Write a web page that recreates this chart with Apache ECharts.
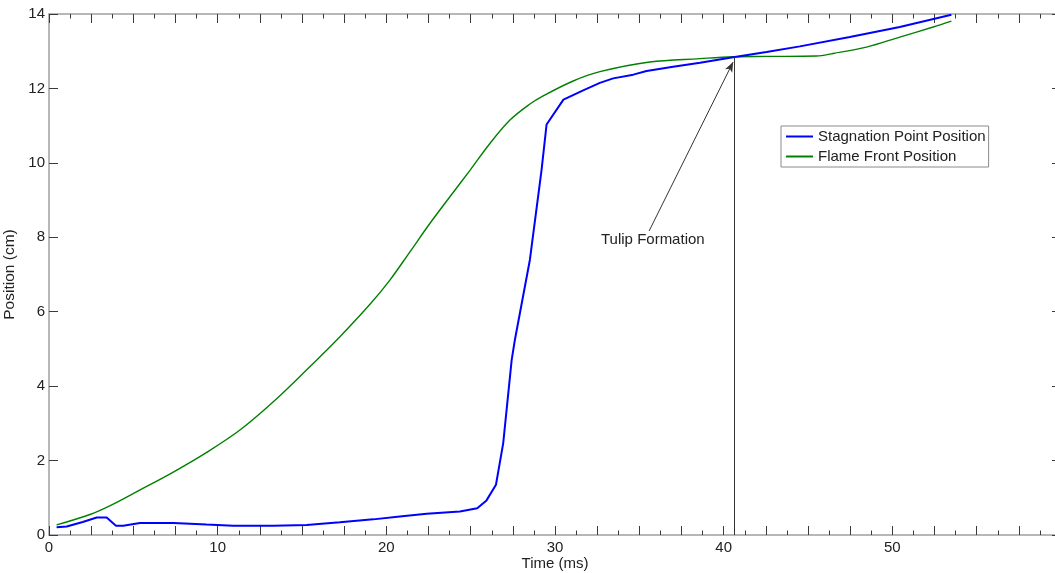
<!DOCTYPE html>
<html>
<head>
<meta charset="utf-8">
<title>Stagnation point and flame front position</title>
<script src="https://cdn.jsdelivr.net/npm/echarts@6/dist/echarts.min.js"></script>
<style>
  html, body { margin: 0; padding: 0; background: #ffffff; }
  #chart { width: 1055px; height: 573px; }
</style>
</head>
<body>
<div id="chart"></div>
<script>
// Stagnation point position (time in ms, position in cm)
const stagTime = [0.45, 1.05, 2.0, 2.83, 3.42, 3.97, 4.4, 5.39, 7.37, 9.35, 10.93, 13.3, 15.28, 17.25, 19.22, 20.8, 22.39, 24.36, 25.39, 25.94, 26.5, 26.93, 27.43, 27.62, 28.51, 29.2, 29.5, 30.5, 31.67, 32.66, 33.45, 34.64, 35.43, 37.0, 38.6, 40.56, 42.54, 44.52, 47.48, 50.44, 53.5];
const stagPos  = [0.21, 0.23, 0.35, 0.47, 0.47, 0.25, 0.25, 0.32, 0.32, 0.28, 0.25, 0.25, 0.27, 0.34, 0.42, 0.5, 0.57, 0.63, 0.72, 0.93, 1.35, 2.47, 4.7, 5.24, 7.39, 9.8, 11.03, 11.7, 11.95, 12.15, 12.27, 12.37, 12.47, 12.58, 12.69, 12.84, 12.98, 13.13, 13.38, 13.65, 13.98];

// Flame front position
const flameTime = [0.45, 2.43, 3.6, 5.4, 7.37, 9.35, 11.32, 13.3, 15.28, 17.25, 19.03, 20.21, 21.4, 22.58, 23.77, 24.96, 26.14, 27.33, 28.51, 29.3, 31.08, 32.66, 35.62, 38.59, 40.56, 42.54, 45.5, 46.49, 48.47, 50.44, 52.42, 53.5];
const flamePos  = [0.27, 0.55, 0.78, 1.21, 1.69, 2.22, 2.82, 3.58, 4.44, 5.33, 6.2, 6.85, 7.61, 8.37, 9.09, 9.8, 10.52, 11.15, 11.58, 11.8, 12.2, 12.45, 12.71, 12.8, 12.85, 12.86, 12.87, 12.94, 13.11, 13.38, 13.65, 13.81];

// Labelled ticks on the time axis
const timeTickLabels = [0, 10, 20, 30, 40, 50];

// Tulip formation marker: vertical line, arrow and caption
const tulipTime = 40.6;
const tulipPos = 12.85;
const arrowFrom = [35.58, 8.17];
const arrowTo = [40.56, 12.71];
const captionAt = [35.8, 7.92];
const captionText = 'Tulip Formation';

const pairs = (xs, ys) => xs.map((x, i) => [x, ys[i]]);

const FONT = '"Liberation Sans", Arial, Helvetica, sans-serif';
const AXIS_LINE = { show: true, onZero: false, lineStyle: { color: '#a0a0a0', width: 1.5 } };
const TICK_STYLE = { color: '#3a3a3a', width: 1 };

const chart = echarts.init(document.getElementById('chart'), null, { renderer: 'canvas' });

const xCommon = {
  type: 'value', min: 0, max: 60, interval: 2.5,
  axisLine: AXIS_LINE,
  axisTick: { show: true, inside: true, length: 9, lineStyle: TICK_STYLE },
  minorTick: { show: true, splitNumber: 2, length: 4.5, lineStyle: TICK_STYLE },
  splitLine: { show: false },
  minorSplitLine: { show: false }
};
const yCommon = {
  type: 'value', min: 0, max: 14, interval: 2,
  axisLine: AXIS_LINE,
  axisTick: { show: true, inside: true, length: 9, lineStyle: TICK_STYLE },
  splitLine: { show: false }
};

chart.setOption({
  animation: false,
  backgroundColor: '#ffffff',
  textStyle: { fontFamily: FONT },
  grid: { left: 49, right: -6, top: 14, bottom: 38, containLabel: false, outerBoundsMode: 'none' },
  legend: {
    orient: 'vertical',
    left: 781, top: 126,
    padding: [3, 3, 3, 5],
    itemGap: 5,
    itemWidth: 27, itemHeight: 2,
    icon: 'rect',
    backgroundColor: '#ffffff',
    borderColor: '#8a8a8a', borderWidth: 1, borderRadius: 0,
    textStyle: { fontFamily: FONT, fontSize: 15, color: '#222' },
    data: ['Stagnation Point Position', 'Flame Front Position']
  },
  xAxis: [
    Object.assign({}, xCommon, {
      position: 'bottom',
      name: 'Time (ms)', nameLocation: 'middle', nameGap: 21,
      nameMoveOverlap: false,
      nameTextStyle: { fontFamily: FONT, fontSize: 15, color: '#222' },
      axisLabel: {
        show: true, margin: 5, fontSize: 15, color: '#222', fontFamily: FONT,
        showMinLabel: true, showMaxLabel: true,
        formatter: v => (timeTickLabels.indexOf(v) >= 0 ? String(v) : '')
      }
    }),
    Object.assign({}, xCommon, { position: 'top', axisLabel: { show: false } })
  ],
  yAxis: [
    Object.assign({}, yCommon, {
      position: 'left',
      name: 'Position (cm)', nameLocation: 'middle', nameGap: 24,
      nameTextStyle: { fontFamily: FONT, fontSize: 15.5, color: '#222' },
      axisLabel: { show: true, margin: 4, fontSize: 15, color: '#222', fontFamily: FONT, showMinLabel: true, showMaxLabel: true }
    }),
    Object.assign({}, yCommon, { position: 'right', axisLabel: { show: false } })
  ],
  series: [
    {
      name: 'Flame Front Position',
      type: 'line',
      xAxisIndex: 0, yAxisIndex: 0,
      data: pairs(flameTime, flamePos),
      showSymbol: false, symbol: 'none',
      smooth: 0.35,
      lineStyle: { color: '#008000', width: 1.4 },
      itemStyle: { color: '#008000' },
      z: 2,
      markLine: {
        silent: true,
        animation: false,
        label: { show: false },
        emphasis: { disabled: true },
        lineStyle: { color: '#333333', width: 1, type: 'solid' },
        data: [
          [
            { coord: [tulipTime, 0], symbol: 'none' },
            { coord: [tulipTime, tulipPos], symbol: 'none' }
          ],
          [
            { coord: arrowFrom, symbol: 'none' },
            { coord: arrowTo, symbol: 'arrow', symbolSize: [6, 10] }
          ]
        ]
      },
      markPoint: {
        silent: true,
        animation: false,
        symbol: 'circle', symbolSize: 1,
        itemStyle: { color: 'rgba(0,0,0,0)' },
        label: {
          show: true, position: 'inside',
          formatter: captionText,
          fontFamily: FONT, fontSize: 15, color: '#222'
        },
        data: [{ coord: captionAt }]
      }
    },
    {
      name: 'Stagnation Point Position',
      type: 'line',
      xAxisIndex: 0, yAxisIndex: 0,
      data: pairs(stagTime, stagPos),
      showSymbol: false, symbol: 'none',
      lineStyle: { color: '#0000ff', width: 2 },
      itemStyle: { color: '#0000ff' },
      z: 3
    }
  ]
});
</script>
</body>
</html>
